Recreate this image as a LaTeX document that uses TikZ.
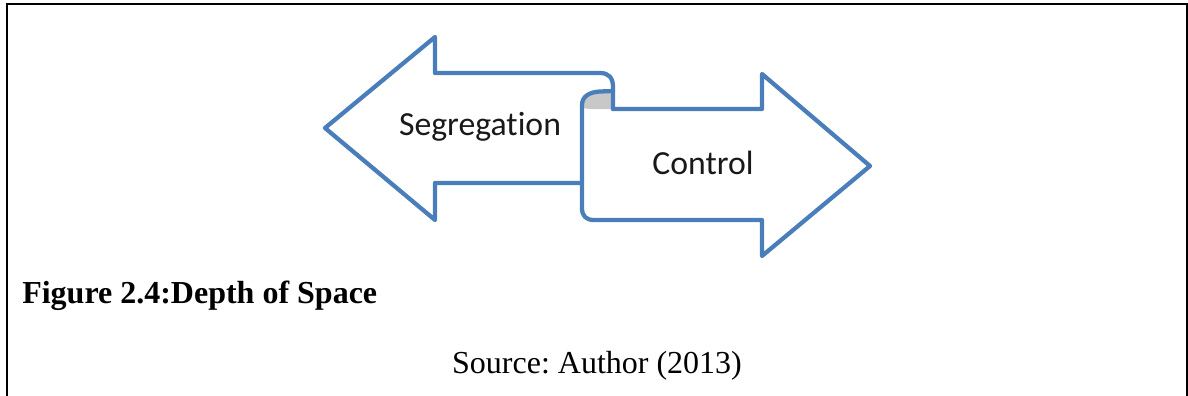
\documentclass[tikz,border=0pt]{standalone}
\usepackage{fontspec}
\setmainfont{Liberation Serif}
\newfontfamily\labelfont[Ligatures=CommonOff]{Carlito}
\definecolor{arrowblue}{RGB}{74,126,187}
\definecolor{curlgray}{RGB}{200,200,200}
\definecolor{labelink}{RGB}{25,25,25}
\frenchspacing
\begin{document}
\begin{tikzpicture}[x=0.75pt,y=-0.75pt,
  outline/.style={draw=arrowblue,line width=3.2pt,line join=round,line cap=round},
  frameline/.style={draw=black,line width=1.5pt},
  arrowtext/.style={font=\labelfont\fontsize{25.3}{29}\selectfont,text=labelink,inner sep=0pt},
  captiontext/.style={font=\fontsize{24}{28}\selectfont,inner sep=0pt}]
\useasboundingbox (0,0) rectangle (1188,396);

% open frame (no bottom edge)
\draw[frameline] (7,400) -- (7,3.5) -- (1187,3.5) -- (1187,400);

% grey underside of the curl
\fill[curlgray] (582,106) .. controls (582,96) and (590,92) .. (600,91.5)
  -- (613,91) -- (613,109) -- (592,109) .. controls (586,109) and (582,108) .. (582,106) -- cycle;

% left-pointing arrow, its shaft rolling over at the right end
\draw[outline] (582,183) -- (435,183) -- (435,220) -- (325,128) -- (435,37) -- (435,73)
  -- (600,73) .. controls (609,73) and (613,78) .. (613,87) -- (613,109);

% right-pointing arrow
\draw[outline] (613,109) -- (762,109) -- (762,74) -- (870,166) -- (762,256) -- (762,220)
  -- (594,220) .. controls (586,220) and (582,216) .. (582,208) -- (582,105)
  .. controls (582,96) and (590,92) .. (600,91.5) -- (613,91);

\node[arrowtext] (seg) at (480,127) {Segregation};
\node[arrowtext] (ctrl) at (703,163) {Control};

\node[captiontext,anchor=base west,font=\bfseries\fontsize{24}{28}\selectfont] (cap) at (22,303) {Figure 2.4:Depth of Space};
\node[captiontext,anchor=base] (src) at (597,373) {Source: Author (2013)};
\end{tikzpicture}
\end{document}
